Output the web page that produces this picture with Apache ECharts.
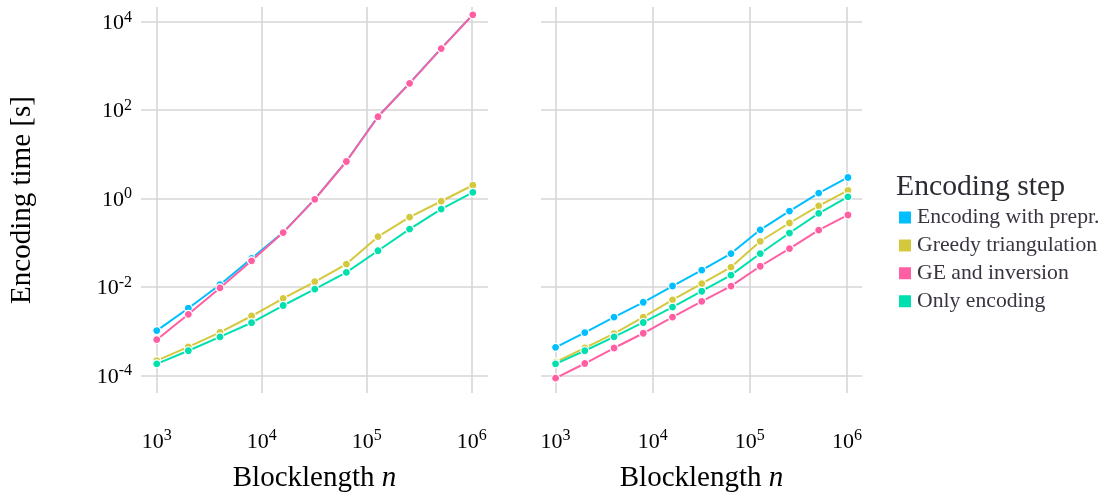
<!DOCTYPE html>
<html>
<head>
<meta charset="utf-8">
<script src="https://cdn.jsdelivr.net/npm/echarts@6/dist/echarts.min.js"></script>
<style>
html, body { margin: 0; padding: 0; background: #fff; }
#chart { width: 1104px; height: 498px; }
</style>
</head>
<body>
<div id="chart"></div>
<script>
// Blocklength n
var blocklengths = [1000, 2000, 4000, 8000, 16000, 32000, 64000, 128000, 256000, 512000, 1024000];
var seriesNames = ['Encoding with prepr.', 'Greedy triangulation', 'GE and inversion', 'Only encoding'];
var seriesColors = ['#00BFFF', '#D4C83C', '#FF5FA2', '#00E0AE'];

// Left panel: encoding time [s]
var leftEncPrepr = [1.03e-3, 3.3e-3, 1.12e-2, 4.4e-2, 0.172, 0.97, 7.0, 72, 410, 2500, 14500];
var leftGreedy   = [2.16e-4, 4.4e-4, 9.4e-4, 2.2e-3, 5.5e-3, 1.31e-2, 3.3e-2, 0.137, 0.38, 0.87, 2.0];
var leftGEInv    = [6.4e-4, 2.4e-3, 9.5e-3, 3.9e-2, 0.17, 0.96, 6.9, 71, 405, 2480, 14400];
var leftOnlyEnc  = [1.82e-4, 3.6e-4, 7.4e-4, 1.55e-3, 3.8e-3, 8.9e-3, 2.13e-2, 6.6e-2, 0.204, 0.577, 1.38];

// Right panel: encoding time [s]
var rightEncPrepr = [4.3e-4, 9.3e-4, 2.07e-3, 4.5e-3, 1.05e-2, 2.4e-2, 5.7e-2, 0.196, 0.52, 1.33, 3.0];
var rightGreedy   = [1.99e-4, 4.2e-4, 8.8e-4, 2.07e-3, 5.1e-3, 1.19e-2, 2.8e-2, 0.108, 0.28, 0.685, 1.53];
var rightGEInv    = [8.6e-5, 1.85e-4, 4.15e-4, 8.95e-4, 2.07e-3, 4.7e-3, 1.04e-2, 2.94e-2, 7.4e-2, 0.193, 0.425];
var rightOnlyEnc  = [1.82e-4, 3.6e-4, 7.4e-4, 1.57e-3, 3.5e-3, 8.0e-3, 1.85e-2, 5.7e-2, 0.166, 0.463, 1.09];

var FONT = 'Liberation Serif';
var leftData = [leftEncPrepr, leftGreedy, leftGEInv, leftOnlyEnc];
var rightData = [rightEncPrepr, rightGreedy, rightGEInv, rightOnlyEnc];

function pairs(ys) {
  return blocklengths.map(function (x, i) { return [x, ys[i]]; });
}

function powLabel(step) {
  return function (value) {
    var l = Math.log10(value);
    var e = Math.round(l);
    if (Math.abs(l - e) > 1e-6) return '';
    if (e % step !== 0) return '';
    return '{b|10}{s|' + e + '}';
  };
}

var labelRich = {
  b: { fontFamily: FONT, fontSize: 22, color: '#000', lineHeight: 25, verticalAlign: 'bottom' },
  s: { fontFamily: FONT, fontSize: 16, color: '#000', lineHeight: 13, verticalAlign: 'top' }
};

var gridLine = '#d6d6d6';

function xAxisDef(gridIndex) {
  return {
    type: 'log', logBase: 10, gridIndex: gridIndex,
    min: Math.pow(10, 2.85), max: Math.pow(10, 6.155),
    splitNumber: 5,
    axisLine: { show: false }, axisTick: { show: false },
    splitLine: { show: true, showMinLine: false, showMaxLine: false, lineStyle: { color: gridLine, width: 1.6 } },
    minorSplitLine: { show: false },
    axisLabel: { showMinLabel: false, showMaxLabel: false, margin: 35, formatter: powLabel(1), rich: labelRich },
    name: 'Blocklength {i|n}', nameLocation: 'middle', nameGap: 71,
    nameTextStyle: { fontFamily: FONT, fontSize: 29, color: '#000',
      rich: { i: { fontFamily: FONT, fontSize: 29, fontStyle: 'italic', color: '#000' } } }
  };
}

function yAxisDef(gridIndex, showLabels) {
  var ax = {
    type: 'log', logBase: 10, gridIndex: gridIndex,
    min: Math.pow(10, -4.40), max: Math.pow(10, 4.335),
    splitNumber: 5,
    axisLine: { show: false }, axisTick: { show: false },
    splitLine: { show: true, showMinLine: false, showMaxLine: false,
      lineStyle: { color: [gridLine, 'rgba(0,0,0,0)'], width: 1.6 } },
    axisLabel: { show: showLabels, showMinLabel: false, showMaxLabel: false, margin: 9,
      formatter: powLabel(2), rich: labelRich }
  };
  if (showLabels) {
    ax.name = 'Encoding time [s]';
    ax.nameLocation = 'middle';
    ax.nameGap = 104;
    ax.nameTextStyle = { fontFamily: FONT, fontSize: 29, color: '#000' };
  }
  return ax;
}

var series = [];
[leftData, rightData].forEach(function (panel, p) {
  panel.forEach(function (ys, k) {
    series.push({
      name: seriesNames[k], type: 'line',
      xAxisIndex: p, yAxisIndex: p,
      data: pairs(ys),
      symbol: 'circle', symbolSize: 8, showSymbol: true,
      lineStyle: { color: seriesColors[k], width: 2 },
      itemStyle: { color: seriesColors[k], borderColor: '#fff', borderWidth: 1.2 },
      clip: false, animation: false,
      z: 2 + k
    });
  });
});

var chart = echarts.init(document.getElementById('chart'), null, { renderer: 'canvas' });
chart.setOption({
  backgroundColor: '#fff',
  animation: false,
  textStyle: { fontFamily: FONT },
  title: {
    text: 'Encoding step', left: 896, top: 172, padding: 0,
    textStyle: { fontFamily: FONT, fontSize: 29.7, fontWeight: 'normal', color: '#2e2a33' }
  },
  legend: {
    orient: 'vertical', left: 897, top: 206.5, padding: 0,
    itemWidth: 14, itemHeight: 14, itemGap: 5.9, icon: 'rect',
    data: seriesNames,
    textStyle: { fontFamily: FONT, fontSize: 21.7, color: '#3a3440' }
  },
  grid: [
    { left: 141, top: 7, width: 347, height: 392 },
    { left: 541, top: 7, width: 321, height: 392 }
  ],
  xAxis: [xAxisDef(0), xAxisDef(1)],
  yAxis: [yAxisDef(0, true), yAxisDef(1, false)],
  series: series
});
</script>
</body>
</html>
